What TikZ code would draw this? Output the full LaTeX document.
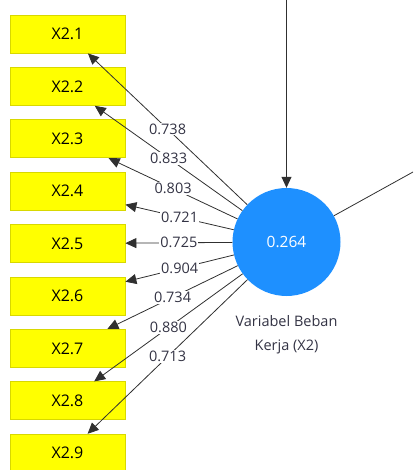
\documentclass[tikz,border=0pt]{standalone}
\usepackage{fontspec}
\setmainfont{Open Sans}
\usetikzlibrary{arrows.meta}
\definecolor{boxyellow}{HTML}{FFFF00}
\definecolor{boxedge}{HTML}{D8D800}
\definecolor{lvblue}{HTML}{1E90FF}
\definecolor{txtdark}{HTML}{333344}
\definecolor{linegray}{HTML}{303030}
\tikzset{
  indbox/.style={draw=boxedge, line width=0.8pt, fill=boxyellow, minimum width=115pt, minimum height=38pt, inner sep=0pt, font=\fontsize{16}{18}\selectfont, text=black},
  lv/.style={circle, fill=lvblue, minimum size=108pt, inner sep=0pt, text=white, font=\fontsize{15.5}{18}\selectfont},
  link/.style={draw=linegray, line width=0.8pt, -{Triangle[length=11pt,width=10pt]}},
  plain/.style={draw=linegray, line width=0.8pt},
  wlabel/.style={fill=white, inner sep=1pt, text=txtdark, font=\fontsize{14.5}{16}\selectfont}
}
\begin{document}
\begin{tikzpicture}[x=1pt,y=-1pt]
\useasboundingbox (0,0) rectangle (413,470);
\foreach \i in {1,...,9}{
  \node[indbox] (x\i) at (67.5,{34+52.4*(\i-1)}) {X2.\i};
}
\node[lv] (lv) at (286.5,242) {0.264};
\node[align=center, text=txtdark, font=\fontsize{14.5}{23.5}\selectfont] (lvname) at (286.5,334.5) {Variabel Beban\\Kerja (X2)};
\coordinate (top) at (286.5,0);
\coordinate (right) at (413,172);
\draw[link] (top) -- (lv);
\draw[plain] (lv) -- (right);
\draw[link] (lv) -- node[wlabel] {0.738} (x1);
\draw[link] (lv) -- node[wlabel] {0.833} (x2);
\draw[link] (lv) -- node[wlabel] {0.803} (x3);
\draw[link] (lv) -- node[wlabel] {0.721} (x4);
\draw[link] (lv) -- node[wlabel] {0.725} (x5);
\draw[link] (lv) -- node[wlabel] {0.904} (x6);
\draw[link] (lv) -- node[wlabel] {0.734} (x7);
\draw[link] (lv) -- node[wlabel] {0.880} (x8);
\draw[link] (lv) -- node[wlabel] {0.713} (x9);
\end{tikzpicture}
\end{document}
